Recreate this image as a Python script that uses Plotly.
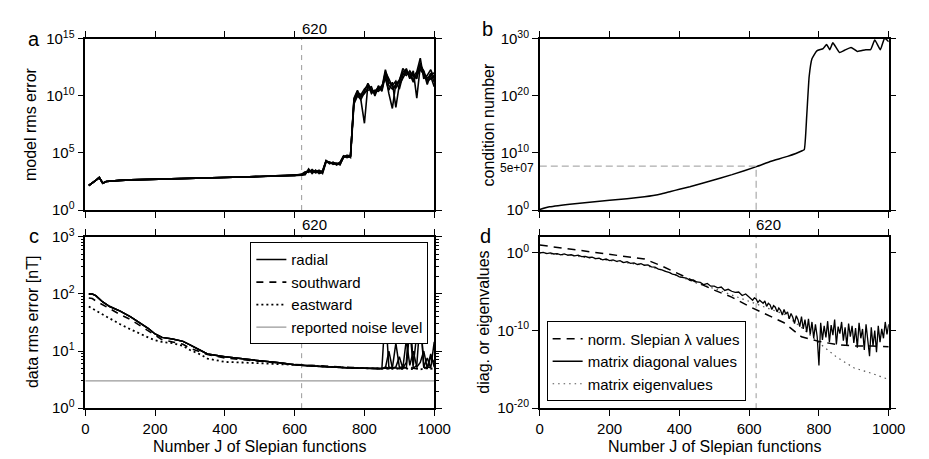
import math
import plotly.graph_objects as go

# ---------------- data (log10 of plotted values unless noted) ----------------
# Panel a: model rms error
A_J_COMMON = [10, 20, 30, 40, 50, 60, 80, 100, 130, 160, 200, 250, 300, 350, 400, 450, 500, 550, 600]
A_LOG_COMMON = [2.15, 2.35, 2.6, 2.85, 2.35, 2.5, 2.58, 2.6, 2.64, 2.67, 2.7, 2.74, 2.78, 2.82, 2.86, 2.9, 2.94, 2.98, 3.02]
A_J_TAIL = list(range(610, 1001, 10))
A_LOG_TAILS = [
    [3.05, 3.1, 3.3, 3.45, 3.4, 3.45, 3.3, 3.35, 4.3, 4.15, 4.1, 4.05, 4.15, 4.7, 4.7, 4.75, 9.6, 10.3, 10.1, 10.6,
     10.9, 10.4, 10.3, 10.8, 10.5, 12.0, 10.9, 10.6, 11.0, 11.4, 12.1, 12.3, 11.6, 11.9, 11.5, 12.9, 11.8, 11.4, 12.0, 11.2],
    [3.0, 3.05, 3.2, 3.5, 3.3, 3.35, 3.5, 3.2, 4.2, 4.2, 4.0, 4.1, 4.0, 4.6, 4.8, 4.6, 9.3, 10.0, 9.7, 10.3,
     10.5, 10.6, 10.2, 10.6, 10.9, 11.5, 10.5, 11.2, 9.0, 11.0, 11.6, 12.1, 12.0, 11.4, 11.8, 12.3, 11.9, 11.6, 11.7, 10.8],
    [3.1, 3.15, 3.35, 3.3, 3.55, 3.3, 3.4, 3.45, 4.35, 4.05, 4.2, 3.95, 4.1, 4.75, 4.6, 4.7, 9.8, 10.5, 9.6, 7.6,
     11.0, 10.2, 10.5, 10.4, 10.7, 12.3, 11.2, 10.9, 11.3, 10.6, 11.8, 12.4, 11.5, 12.2, 9.8, 12.6, 12.1, 11.0, 11.9, 12.0],
    [3.0, 3.05, 3.1, 3.6, 3.2, 3.5, 3.2, 3.3, 4.25, 4.1, 4.15, 4.1, 3.95, 4.65, 4.75, 4.8, 9.5, 10.1, 10.0, 10.2,
     10.7, 10.8, 10.0, 10.9, 10.4, 11.8, 10.2, 8.9, 11.1, 11.2, 12.0, 11.8, 12.2, 11.7, 12.1, 13.3, 11.5, 11.8, 12.3, 11.5],
    [3.05, 3.1, 3.25, 3.4, 3.45, 3.25, 3.35, 3.4, 4.3, 4.2, 4.05, 4.0, 4.2, 4.7, 4.65, 4.7, 9.7, 10.4, 9.9, 10.4,
     11.1, 10.5, 10.4, 10.7, 10.6, 12.1, 11.5, 10.8, 10.7, 11.3, 12.4, 12.0, 11.9, 11.2, 12.0, 12.7, 12.2, 11.3, 11.5, 11.8],
]

# Panel b: condition number
B_J = [0, 28, 100, 200, 250, 300, 325, 350, 375, 400, 430, 486, 551, 621, 663, 710, 752, 758, 765, 772, 780, 794, 812,
       822, 831, 840, 859, 873, 892, 910, 934, 948, 960, 976, 988, 1000]
B_LOG = [0.1, 0.56, 1.12, 1.73, 2.0, 2.33, 2.55, 2.85, 3.25, 3.65, 4.08, 5.04, 6.21, 7.61, 8.56, 9.4, 10.4, 10.6, 16.5, 23.4, 26.5, 27.9, 28.3,
         29.0, 28.1, 29.3, 27.6, 28.0, 28.5, 27.8, 28.1, 28.1, 29.8, 28.1, 30.1, 29.5]
B_CUT_J = 620
B_CUT_VALUE = 5e7

# Panel c: data rms error [nT]
C_J_BASE = [10, 20, 30, 50, 70, 100, 130, 150, 180, 200, 220, 250, 280, 300, 330, 350, 400, 450, 500, 550,
            600, 650, 700, 750, 800, 850]
C_RADIAL_LOG = [2.0, 2.0, 1.97, 1.86, 1.78, 1.70, 1.6, 1.52, 1.4, 1.3, 1.24, 1.21, 1.17, 1.11, 1.02, 0.95, 0.9, 0.86, 0.83, 0.8,
                0.76, 0.74, 0.72, 0.71, 0.7, 0.69]
C_SOUTH_LOG = [1.93, 1.92, 1.88, 1.81, 1.74, 1.64, 1.55, 1.47, 1.36, 1.28, 1.2, 1.16, 1.12, 1.05, 0.98, 0.94, 0.88, 0.85, 0.82, 0.79,
               0.765, 0.75, 0.73, 0.72, 0.7, 0.69]
C_EAST_LOG = [1.78, 1.75, 1.71, 1.64, 1.57, 1.47, 1.38, 1.32, 1.24, 1.19, 1.16, 1.14, 1.09, 1.02, 0.94, 0.87, 0.81, 0.8, 0.79, 0.78,
              0.76, 0.74, 0.72, 0.71, 0.7, 0.69]
C_J_TAIL = list(range(860, 1001, 10))
C_RADIAL_TAILS = [
    [1.7, 0.72, 0.7, 1.14, 0.72, 0.7, 0.8, 1.7, 0.75, 1.3, 1.7, 0.72, 0.88, 0.7, 1.16],
    [0.7, 1.0, 0.7, 0.72, 0.9, 0.7, 1.2, 0.75, 1.0, 0.72, 0.8, 1.0, 0.7, 0.9, 0.8],
    [0.72, 0.7, 0.71, 0.7, 0.7, 0.73, 0.7, 1.4, 0.7, 0.75, 1.6, 0.72, 0.7, 0.95, 0.72],
]
C_SOUTH_TAIL = [0.7, 0.69, 0.72, 0.7, 0.69, 0.7, 0.71, 0.72, 0.7, 0.69, 0.7, 0.7, 0.72, 0.71, 0.7]
C_EAST_TAIL = [0.69, 0.68, 0.69, 0.7, 0.68, 0.69, 0.7, 0.68, 0.69, 0.7, 0.68, 0.69, 0.7, 0.69, 0.7]
C_NOISE_LEVEL = 3.0

# Panel d: diagonal / eigenvalues
D_J_LAMBDA = [0, 100, 200, 300, 350, 400, 450, 500, 550, 600, 650, 700, 750, 800, 850, 900, 950, 1000]
D_LAMBDA_LOG = [1.0, 0.4, -0.2, -0.8, -1.7, -2.8, -3.8, -4.8, -5.7, -6.9, -8.0, -9.0, -10.8, -11.4, -11.8, -12.0, -12.0, -12.1]
D_J_DIAG = list(range(0, 600, 10)) + list(range(600, 1001, 5))
D_DIAG_LOG = [
    0.0, 0.05, -0.1, 0.0, -0.15, -0.1, -0.25, -0.15, -0.3, -0.25,
    -0.4, -0.3, -0.5, -0.45, -0.6, -0.55, -0.75, -0.7, -0.9, -0.8,
    -1.0, -0.9, -1.1, -1.0, -1.25, -1.15, -1.35, -1.3, -1.5, -1.4,
    -1.6, -1.55, -1.8, -1.85, -2.1, -2.2, -2.4, -2.5, -2.75, -2.85,
    -3.1, -3.2, -3.25, -3.55, -3.5, -3.75, -3.8, -4.1, -3.95, -4.3,
    -4.3, -4.5, -4.4, -4.85, -4.7, -4.95, -5.1, -5.05, -5.5, -5.3,
    -5.7, -5.9, -6.1, -5.8, -5.95, -6.4, -6.1, -6.3, -6.5, -6.2,
    -6.9, -6.5, -6.7, -7.3, -6.8, -7.0, -7.6, -7.1, -7.4, -8.0,
    -7.3, -7.9, -7.6, -8.5, -7.8, -8.3, -9.1, -8.1, -8.6, -9.5,
    -8.2, -9.8, -8.6, -10.2, -8.5, -10.5, -8.9, -11.0, -9.2, -10.8,
    -14.5, -9.0, -11.2, -9.4, -10.9, -8.8, -11.5, -9.3, -10.6, -8.6,
    -11.8, -9.5, -10.4, -8.9, -11.3, -9.6, -12.0, -9.1, -10.8, -9.4,
    -11.6, -9.7, -12.2, -9.0, -11.0, -9.8, -12.5, -9.2, -11.4, -13.3,
    -9.6, -12.0, -10.0, -12.8, -9.4, -11.5, -9.8, -11.0, -8.9, -10.5,
    -9.2,
]
D_J_EIG = [0, 100, 200, 300, 350, 400, 450, 500, 550, 600, 650, 700, 750, 800, 850, 900, 950, 1000]
D_EIG_LOG = [0.0, -0.4, -1.0, -1.6, -2.2, -3.1, -3.9, -4.6, -5.4, -6.3, -7.1, -7.9, -9.6, -11.6, -13.4, -14.8, -15.5, -16.3]

CUT_J = 620
X_TICKS = [0, 200, 400, 600, 800, 1000]

# ---------------- figure ----------------
W, H = 929, 459
FONT = "Liberation Sans, Arial, Helvetica, sans-serif"


def px_x(p):
    return p / W


def px_y(p):
    return 1 - p / H


def pw(v):
    return [10.0 ** e for e in v]


fig = go.Figure()

# panel a
for tail in A_LOG_TAILS:
    fig.add_trace(go.Scatter(x=A_J_COMMON + A_J_TAIL, y=pw(A_LOG_COMMON + tail), mode="lines",
                             line=dict(color="black", width=1.6), showlegend=False, xaxis="x", yaxis="y"))

# panel b
fig.add_trace(go.Scatter(x=B_J, y=pw(B_LOG), mode="lines", line=dict(color="black", width=1.5, shape="spline", smoothing=0.4),
                         showlegend=False, xaxis="x2", yaxis="y2"))
fig.add_trace(go.Scatter(x=[0, B_CUT_J, B_CUT_J], y=[B_CUT_VALUE, B_CUT_VALUE, 1.0], mode="lines",
                         line=dict(color="#999999", width=1, dash="7px,4px"), showlegend=False,
                         xaxis="x2", yaxis="y2"))

# panel c
fig.add_trace(go.Scatter(x=[0, 1000], y=[C_NOISE_LEVEL, C_NOISE_LEVEL], mode="lines",
                         line=dict(color="#999999", width=1.2), name="reported noise level",
                         legendrank=4, xaxis="x3", yaxis="y3", legend="legend"))
for i, tail in enumerate(C_RADIAL_TAILS):
    fig.add_trace(go.Scatter(x=C_J_BASE + C_J_TAIL, y=pw(C_RADIAL_LOG + tail), mode="lines",
                             line=dict(color="black", width=1.5), name="radial", legendrank=1,
                             showlegend=(i == 0), xaxis="x3", yaxis="y3", legend="legend"))
fig.add_trace(go.Scatter(x=C_J_BASE + C_J_TAIL, y=pw(C_SOUTH_LOG + C_SOUTH_TAIL), mode="lines",
                         line=dict(color="black", width=1.6, dash="7px,6px"), name="southward", legendrank=2,
                         xaxis="x3", yaxis="y3", legend="legend"))
fig.add_trace(go.Scatter(x=C_J_BASE + C_J_TAIL, y=pw(C_EAST_LOG + C_EAST_TAIL), mode="lines",
                         line=dict(color="black", width=1.8, dash="2px,3px"), name="eastward", legendrank=3,
                         xaxis="x3", yaxis="y3", legend="legend"))

# panel d
fig.add_trace(go.Scatter(x=D_J_EIG, y=pw(D_EIG_LOG), mode="lines",
                         line=dict(color="#555555", width=1.2, dash="1.5px,4px"), name="matrix eigenvalues",
                         legendrank=3, xaxis="x4", yaxis="y4", legend="legend2"))
fig.add_trace(go.Scatter(x=D_J_LAMBDA, y=pw(D_LAMBDA_LOG), mode="lines",
                         line=dict(color="black", width=1.5, dash="8px,6px"), name="norm. Slepian λ values",
                         legendrank=1, xaxis="x4", yaxis="y4", legend="legend2"))
fig.add_trace(go.Scatter(x=D_J_DIAG, y=pw(D_DIAG_LOG), mode="lines",
                         line=dict(color="black", width=1.3), name="matrix diagonal values",
                         legendrank=2, xaxis="x4", yaxis="y4", legend="legend2"))

# axes
XDOM_L = [px_x(75), px_x(432)]
XDOM_R = [px_x(540), px_x(897)]
YDOM_T = [px_y(199.3), px_y(20.7)]
YDOM_B = [px_y(406), px_y(227.3)]

common = dict(showline=True, linecolor="black", linewidth=1.5, mirror="allticks", ticks="outside",
              ticklen=6, tickwidth=1.2, tickcolor="black", showgrid=False, zeroline=False,
              tickfont=dict(family=FONT, size=15, color="black"))


def xax(dom, anchor, labels):
    d = dict(common)
    d.update(domain=dom, anchor=anchor, range=[0, 1000], tickmode="array", tickvals=X_TICKS,
             showticklabels=labels)
    return d


def yax(dom, anchor, rng, exps, minor=None):
    d = dict(common)
    d.update(domain=dom, anchor=anchor, type="log", range=rng, tickmode="array",
             tickvals=[10.0 ** e for e in exps], ticktext=["10<sup>%d</sup>" % e for e in exps])
    if minor:
        d["minor"] = minor
    return d


minor_c = dict(tickmode="array", tickvals=[float(m * 10 ** k) for k in range(0, 3) for m in range(2, 10)],
               ticks="outside", ticklen=3, tickwidth=1, tickcolor="black", showgrid=False)

fig.update_layout(
    xaxis=xax(XDOM_L, "y", False),
    yaxis=yax(YDOM_T, "x", [0, 15], [0, 5, 10, 15]),
    xaxis2=xax(XDOM_R, "y2", False),
    yaxis2=yax(YDOM_T, "x2", [0, 30], [0, 10, 20, 30]),
    xaxis3=xax(XDOM_L, "y3", True),
    yaxis3=yax(YDOM_B, "x3", [0, 3], [0, 1, 2, 3], minor_c),
    xaxis4=xax(XDOM_R, "y4", True),
    yaxis4=yax(YDOM_B, "x4", [-20, 2.05], [-20, -10, 0]),
)

# vertical dashed lines at J=620 (panels a, c, d)
shapes = []
for xr, yr in [("x", "y domain"), ("x3", "y3 domain"), ("x4", "y4 domain")]:
    shapes.append(dict(type="line", xref=xr, yref=yr, x0=CUT_J, x1=CUT_J, y0=0, y1=1, layer="below",
                       line=dict(color="#999999", width=1, dash="5px,5px")))

ann = []
for xr, yr, ys in [("x", "y domain", 0), ("x3", "y3 domain", 2), ("x4", "y4 domain", 2)]:
    ann.append(dict(text=str(CUT_J), x=CUT_J, xref=xr, y=1, yref=yr, xanchor="left", yanchor="bottom",
                    yshift=ys, xshift=-2, showarrow=False, font=dict(family=FONT, size=15, color="black")))

ann.append(dict(text="5e+07", x=0, xref="x2 domain", y=math.log10(B_CUT_VALUE), yref="y2", xanchor="right",
                yanchor="middle", xshift=-4, yshift=-2, showarrow=False,
                font=dict(family=FONT, size=12, color="black")))

for letter, cx, cy in [("a", 23, 21), ("b", 487, 10), ("c", 22, 226), ("d", 484, 226)]:
    ann.append(dict(text=letter, x=px_x(cx), y=px_y(cy), xref="paper", yref="paper", xanchor="center",
                    yanchor="middle", showarrow=False, font=dict(family=FONT, size=20, color="black")))

for title, cx, cy in [("model rms error", 19, 110), ("condition number", 487, 110),
                      ("data rms error [nT]", 21, 316.7), ("diag. or eigenvalues", 483, 316.7)]:
    ann.append(dict(text=title, x=px_x(cx), y=px_y(cy), xref="paper", yref="paper", xanchor="center",
                    yanchor="middle", textangle=-90, showarrow=False,
                    font=dict(family=FONT, size=16, color="black")))

for cx in [253.5, 718.5]:
    ann.append(dict(text="Number J of Slepian functions", x=px_x(cx), y=px_y(446), xref="paper", yref="paper",
                    xanchor="center", yanchor="middle", showarrow=False,
                    font=dict(family=FONT, size=16, color="black")))

fig.update_layout(
    width=W, height=H, autosize=False,
    margin=dict(l=0, r=0, t=0, b=0, pad=0),
    paper_bgcolor="white", plot_bgcolor="white",
    font=dict(family=FONT, size=15, color="black"),
    shapes=shapes, annotations=ann,
    legend=dict(x=px_x(426), y=px_y(233), xanchor="right", yanchor="top", bgcolor="white",
                bordercolor="black", borderwidth=1, font=dict(family=FONT, size=15, color="black"),
                tracegroupgap=0, traceorder="normal"),
    legend2=dict(x=px_x(547), y=px_y(399), xanchor="left", yanchor="bottom", bgcolor="white",
                 bordercolor="black", borderwidth=1, font=dict(family=FONT, size=15, color="black"),
                 tracegroupgap=0, traceorder="normal"),
)

fig.write_html("out.html")
